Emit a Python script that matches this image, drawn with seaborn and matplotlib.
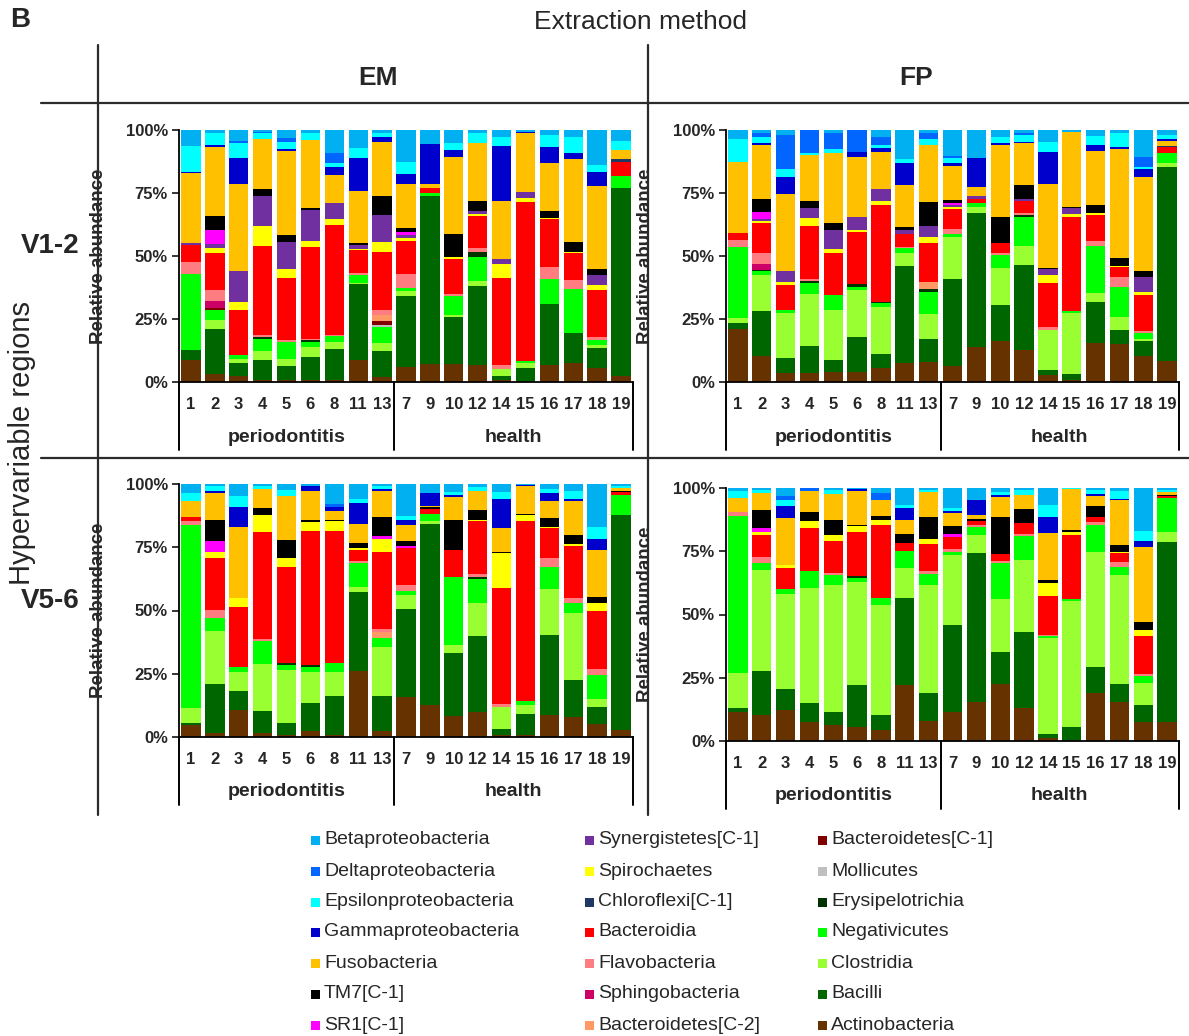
import matplotlib
matplotlib.use("Agg")
import matplotlib.pyplot as plt
from matplotlib.lines import Line2D
from matplotlib.patches import Rectangle
from matplotlib.ticker import FuncFormatter
import pandas as pd
import seaborn as sns

# ---------------------------------------------------------------- data
samples = ["1", "2", "3", "4", "5", "6", "8", "11", "13",
           "7", "9", "10", "12", "14", "15", "16", "17", "18", "19"]
group_names = ["periodontitis", "health"]
group_sizes = [9, 10]

# taxa listed from the top of each stacked bar down (same as legend order)
taxa = ["Betaproteobacteria", "Deltaproteobacteria", "Epsilonproteobacteria",
        "Gammaproteobacteria", "Fusobacteria", "TM7[C-1]", "SR1[C-1]",
        "Synergistetes[C-1]", "Spirochaetes", "Chloroflexi[C-1]", "Bacteroidia",
        "Flavobacteria", "Sphingobacteria", "Bacteroidetes[C-2]",
        "Bacteroidetes[C-1]", "Mollicutes", "Erysipelotrichia", "Negativicutes",
        "Clostridia", "Bacilli", "Actinobacteria"]
taxa_colors = ["#00B0F0", "#0066FF", "#00FFFF", "#0000CC", "#FFC000", "#000000",
               "#FF00FF", "#7030A0", "#FFFF00", "#1F3864", "#FF0000", "#FF7C80",
               "#CC0066", "#FF9966", "#800000", "#BFBFBF", "#003300", "#00FF00",
               "#99FF33", "#006600", "#663300"]

# relative abundance (%) per sample, EM extraction, V1-2 region
em_v12 = {
    "Actinobacteria": [8.9, 3.3, 2.3, 0.9, 0.9, 0.9, 0.9, 8.6, 2.0, 6.0, 7.3, 7.3, 6.9, 0.7, 0.4, 6.6, 7.7, 5.7, 2.4],
    "Bacilli": [3.9, 17.9, 5.2, 8.0, 5.3, 9.0, 12.3, 30.2, 10.3, 28.0, 66.5, 18.5, 31.1, 1.6, 5.3, 24.3, 11.9, 7.8, 74.4],
    "Clostridia": [0, 3.3, 1.8, 3.4, 3.1, 4.0, 2.7, 0.5, 3.2, 2.0, 0, 0.7, 2.1, 3.0, 1.8, 0, 0, 1.3, 0],
    "Negativicutes": [30.2, 4.2, 1.3, 4.9, 6.6, 2.0, 2.2, 3.1, 6.4, 1.4, 1.3, 7.7, 9.6, 0, 0.8, 9.8, 17.5, 1.8, 4.9],
    "Erysipelotrichia": [0, 0, 0, 0.8, 0, 0.9, 0, 0, 0, 0, 0, 0, 2.0, 0, 0, 0, 0, 0, 0],
    "Mollicutes": [0, 0, 0, 0, 0, 0, 0, 0, 0.9, 0, 0, 0, 0, 0, 0, 0, 0, 0, 0],
    "Bacteroidetes[C-1]": [0, 0.8, 0, 0, 0, 0, 0, 0, 1.3, 0, 0, 0, 0, 0, 0, 0, 0, 0, 0],
    "Bacteroidetes[C-2]": [0, 0, 0, 0, 0, 0, 0, 0, 2.5, 0, 0, 0, 0, 0, 0, 0, 0, 0, 0],
    "Sphingobacteria": [0, 2.6, 0, 0, 0, 0, 0, 0, 0, 0, 0, 0, 0, 0, 0, 0, 0, 0, 0],
    "Flavobacteria": [4.7, 4.3, 0, 0.5, 0.7, 0.4, 0.7, 0.9, 2.1, 5.4, 0, 0.9, 1.3, 1.3, 0, 5.0, 3.3, 1.3, 0],
    "Bacteroidia": [6.6, 14.9, 18.1, 35.4, 24.7, 36.2, 43.7, 9.0, 23.0, 13.2, 2.0, 13.9, 12.8, 34.5, 63.2, 18.8, 10.6, 18.5, 5.7],
    "Chloroflexi[C-1]": [0, 0, 0, 0, 0, 0, 0, 0, 0, 0, 0, 0, 0, 0, 0, 0, 0, 0, 0.9],
    "Spirochaetes": [0, 1.7, 3.1, 8.0, 3.7, 2.6, 2.0, 0.4, 3.9, 1.0, 0, 0.7, 0.7, 5.7, 1.7, 0.7, 0.7, 2.0, 0],
    "Synergistetes[C-1]": [0.7, 1.7, 12.3, 11.9, 10.6, 12.2, 6.4, 1.6, 10.6, 1.3, 0, 0, 1.3, 2.2, 2.3, 0, 0, 4.0, 0],
    "SR1[C-1]": [0, 5.6, 0, 0, 0, 0, 0, 0, 0, 1.3, 0, 0, 0, 0, 0, 0, 0, 0, 0],
    "TM7[C-1]": [0, 5.5, 0, 2.6, 2.7, 0.7, 0, 0.9, 7.6, 1.7, 0, 9.2, 4.1, 0, 0, 2.6, 3.9, 2.4, 0],
    "Fusobacteria": [28.0, 27.3, 34.3, 19.9, 33.5, 27.1, 11.2, 20.7, 21.6, 17.1, 1.3, 30.2, 23.1, 22.8, 23.2, 19.0, 32.7, 32.9, 3.8],
    "Gammaproteobacteria": [0.4, 0.9, 10.6, 0, 0.5, 0, 3.3, 12.8, 2.0, 4.1, 16.0, 3.0, 0, 21.8, 0.6, 6.6, 2.7, 5.5, 0],
    "Epsilonproteobacteria": [10.2, 4.9, 6.0, 2.4, 3.1, 2.7, 1.6, 4.0, 1.3, 4.7, 0, 2.9, 3.7, 3.8, 0, 4.6, 6.1, 2.9, 3.7],
    "Deltaproteobacteria": [0, 0, 0.8, 0.6, 1.3, 0, 3.7, 0, 0, 0, 0, 0, 0, 0, 0, 0, 0, 0, 0],
    "Betaproteobacteria": [6.4, 1.1, 4.2, 0.7, 3.3, 1.3, 9.3, 7.3, 1.3, 12.8, 5.6, 5.0, 1.3, 2.6, 0.7, 2.0, 2.9, 13.9, 4.2],
}

# FP extraction, V1-2 region
fp_v12 = {
    "Actinobacteria": [20.9, 10.3, 3.6, 3.6, 4.0, 4.0, 5.7, 7.7, 7.9, 6.2, 13.9, 16.2, 12.6, 2.6, 0.9, 15.5, 15.0, 10.2, 8.2],
    "Bacilli": [2.5, 17.8, 5.9, 10.6, 4.6, 13.9, 5.6, 38.4, 9.3, 34.6, 53.3, 14.5, 33.8, 2.0, 2.1, 16.3, 5.5, 6.1, 77.2],
    "Clostridia": [1.8, 14.3, 17.9, 20.9, 19.9, 18.5, 18.5, 4.9, 9.7, 16.6, 2.1, 14.6, 7.5, 16.2, 24.5, 3.7, 5.3, 0.7, 1.4],
    "Negativicutes": [28.4, 1.7, 1.1, 4.0, 5.9, 1.3, 1.6, 2.0, 8.9, 1.3, 1.6, 5.0, 11.4, 0, 0.7, 18.4, 11.9, 2.5, 4.2],
    "Erysipelotrichia": [0, 0.5, 0, 1.0, 0, 1.1, 0.4, 0, 1.3, 0, 0, 0, 0.9, 0, 0, 0, 0, 0, 0],
    "Bacteroidetes[C-2]": [0, 0, 0, 0, 0, 0, 0, 0, 2.6, 0, 0, 0, 0, 0, 0, 0, 0, 0, 0],
    "Sphingobacteria": [0, 2.4, 0, 0, 0, 0, 0, 0, 0, 0, 0, 0, 0, 0, 0, 0, 0, 0, 0],
    "Flavobacteria": [2.7, 4.3, 0, 0.7, 0, 0, 0, 0.6, 0, 2.2, 0, 0.7, 1.0, 1.1, 0, 2.1, 3.8, 0.8, 0],
    "Bacteroidia": [2.9, 11.6, 9.9, 21.1, 16.6, 20.8, 38.4, 5.3, 15.5, 7.6, 1.9, 4.2, 4.6, 17.4, 37.4, 10.2, 4.2, 14.1, 2.1],
    "Chloroflexi[C-1]": [0, 0, 0, 0, 0, 0, 0, 0, 0, 0, 0, 0, 0, 0, 0, 0, 0, 0, 0.5],
    "Spirochaetes": [0, 0.9, 1.1, 3.3, 1.6, 0.9, 1.6, 0, 2.2, 0.8, 0, 0, 0, 3.1, 0.9, 0.7, 0.4, 1.4, 0],
    "Synergistetes[C-1]": [0, 0.7, 4.6, 3.7, 7.7, 5.1, 4.6, 1.4, 4.5, 0.8, 1.0, 0, 0.9, 2.4, 2.4, 0, 0, 5.9, 0],
    "SR1[C-1]": [0, 3.0, 0, 0, 0, 0, 0, 0, 0, 0.8, 0, 0, 0, 0, 0, 0, 0, 0, 0],
    "TM7[C-1]": [0, 5.3, 0, 2.9, 2.6, 0, 0, 1.3, 9.6, 1.3, 0, 10.4, 5.4, 0.5, 0.6, 3.3, 3.3, 2.3, 0],
    "Fusobacteria": [28.2, 21.2, 30.7, 18.3, 27.8, 23.8, 15.0, 16.5, 22.5, 13.5, 3.7, 28.4, 16.6, 33.1, 29.8, 21.5, 42.9, 37.5, 2.2],
    "Gammaproteobacteria": [0, 0.7, 6.7, 0, 0, 2.0, 1.3, 8.7, 0, 1.1, 11.2, 1.0, 0.7, 12.7, 0, 2.3, 0.8, 2.9, 0.5],
    "Epsilonproteobacteria": [8.9, 2.7, 2.9, 0.9, 1.6, 0, 1.3, 1.5, 2.3, 1.9, 0, 2.4, 2.6, 4.3, 0, 3.6, 5.6, 1.0, 1.7],
    "Deltaproteobacteria": [0, 1.5, 13.6, 9.0, 6.4, 8.6, 3.4, 0, 2.4, 1.0, 0, 0, 0.9, 0, 0, 0, 0, 3.7, 0],
    "Betaproteobacteria": [3.7, 1.1, 2.0, 0, 1.3, 0, 2.6, 11.7, 1.3, 10.3, 11.3, 2.6, 1.1, 4.6, 0.7, 2.4, 1.3, 10.9, 2.0],
}

# EM extraction, V5-6 region
em_v56 = {
    "Actinobacteria": [4.6, 1.7, 10.6, 1.7, 0.9, 2.2, 0.9, 26.0, 2.2, 15.9, 12.5, 8.3, 9.9, 0.9, 0.7, 8.6, 7.9, 5.3, 2.6],
    "Bacilli": [1.1, 19.4, 7.5, 8.5, 4.6, 11.4, 15.3, 31.2, 14.0, 34.6, 71.6, 25.0, 30.1, 2.1, 8.2, 31.7, 14.6, 6.6, 85.0],
    "Clostridia": [5.8, 20.9, 7.4, 18.5, 20.9, 12.2, 9.6, 2.2, 19.5, 5.6, 1.4, 3.0, 12.8, 8.9, 3.9, 18.2, 26.4, 3.0, 0],
    "Negativicutes": [72.4, 4.9, 2.0, 9.2, 2.0, 1.9, 3.3, 9.3, 3.3, 1.6, 2.6, 27.1, 9.7, 0, 1.3, 8.5, 3.9, 9.8, 7.9],
    "Erysipelotrichia": [0, 0, 0, 0, 0.7, 0.7, 0, 0, 0, 0, 0, 0, 0.9, 0, 0, 0, 0, 0, 0],
    "Bacteroidetes[C-2]": [0, 0, 0, 0, 0, 0, 0, 0, 2.6, 0, 0, 0, 0, 0, 0, 0, 0, 0, 0],
    "Flavobacteria": [1.6, 3.3, 0, 0.7, 0, 0, 0, 0.9, 1.1, 2.4, 0, 0, 0.9, 1.3, 0, 3.9, 2.0, 2.0, 0],
    "Bacteroidia": [1.3, 20.7, 24.0, 42.4, 37.9, 53.1, 52.4, 4.4, 30.6, 14.8, 2.0, 10.6, 20.9, 45.6, 71.4, 11.7, 20.8, 23.1, 1.3],
    "Spirochaetes": [0, 2.4, 3.6, 6.6, 3.9, 3.4, 3.7, 0.6, 5.0, 0, 0, 0, 0.7, 13.9, 2.1, 0.5, 0.6, 3.0, 0],
    "SR1[C-1]": [0, 4.0, 0, 0, 0, 0, 0, 0, 1.0, 0.7, 0, 0, 0, 0, 0, 0, 0, 0, 0],
    "TM7[C-1]": [0, 8.6, 0, 2.9, 7.0, 1.0, 0.7, 2.0, 7.5, 1.9, 0.8, 11.9, 3.9, 0.6, 0.5, 3.4, 3.7, 2.7, 0.6],
    "Fusobacteria": [6.3, 10.5, 28.1, 7.7, 17.2, 11.2, 3.5, 7.5, 10.6, 6.4, 0.6, 8.8, 7.3, 9.3, 11.0, 6.6, 13.5, 18.5, 1.0],
    "Gammaproteobacteria": [0, 0.7, 7.9, 0, 0, 2.0, 1.7, 8.4, 0.8, 2.0, 4.9, 1.1, 0, 11.6, 0.5, 3.3, 0.8, 4.2, 0],
    "Epsilonproteobacteria": [3.3, 2.0, 4.0, 0.9, 2.7, 0, 0, 1.7, 0.9, 1.6, 0, 1.0, 1.6, 2.6, 0, 1.8, 3.2, 5.0, 0.9],
    "Deltaproteobacteria": [0, 0, 0, 0, 0, 0, 1.0, 0, 0, 0, 0, 0, 0, 0, 0, 0, 0, 0, 0],
    "Betaproteobacteria": [3.6, 0.9, 4.9, 0.9, 2.2, 0.9, 7.9, 5.8, 0.9, 12.5, 3.6, 3.2, 1.3, 3.2, 0.4, 1.8, 2.6, 16.8, 0.7],
}

# FP extraction, V5-6 region
fp_v56 = {
    "Actinobacteria": [11.5, 10.2, 12.2, 7.5, 6.5, 5.5, 4.2, 22.3, 7.8, 11.5, 15.3, 22.5, 12.9, 1.2, 0.3, 18.8, 15.5, 7.6, 7.6],
    "Bacilli": [1.6, 17.4, 8.5, 7.6, 5.0, 16.8, 6.2, 34.4, 11.0, 34.5, 59.2, 12.5, 30.1, 1.5, 5.3, 10.6, 7.0, 6.6, 71.2],
    "Clostridia": [13.6, 40.0, 37.3, 45.5, 50.2, 40.4, 43.4, 11.6, 42.9, 27.5, 7.1, 21.0, 28.5, 38.0, 49.7, 45.4, 43.0, 8.9, 4.0],
    "Negativicutes": [62.1, 2.7, 2.1, 6.6, 4.0, 1.6, 2.6, 6.9, 4.2, 1.3, 3.1, 14.3, 9.7, 0.9, 0.7, 10.6, 3.1, 2.6, 13.2],
    "Erysipelotrichia": [0, 0, 0, 0, 0, 1.0, 0, 0, 0, 0, 0, 0, 0, 0, 0, 0, 0, 0, 0],
    "Flavobacteria": [1.6, 2.6, 0, 0, 0.6, 0, 0, 0, 1.1, 1.1, 0.7, 0.7, 0.6, 0.4, 0, 1.1, 2.0, 0.8, 0],
    "Bacteroidia": [0, 8.6, 8.2, 16.9, 12.8, 17.5, 28.8, 3.0, 10.8, 4.9, 1.7, 2.9, 4.3, 15.3, 25.4, 2.0, 3.9, 15.1, 0.8],
    "Spirochaetes": [0, 1.3, 1.1, 3.0, 2.4, 2.0, 2.3, 0, 2.0, 0, 0, 0, 0, 5.0, 1.1, 0, 0.4, 2.2, 0],
    "SR1[C-1]": [0, 1.3, 0, 0, 0, 0, 0, 0, 0, 1.0, 0, 0, 0, 0, 0, 0, 0, 0, 0],
    "TM7[C-1]": [0, 7.3, 0, 3.4, 6.0, 0.7, 1.3, 3.6, 8.6, 3.3, 0.7, 14.6, 5.7, 1.2, 0.9, 4.2, 2.7, 3.3, 0.5],
    "Fusobacteria": [5.6, 6.6, 18.7, 8.4, 10.1, 13.2, 6.6, 5.7, 10.0, 5.1, 1.6, 7.9, 5.5, 18.7, 16.1, 4.1, 17.5, 29.7, 1.1],
    "Gammaproteobacteria": [0, 0, 4.6, 0, 0, 1.0, 0, 4.6, 0, 0.9, 5.7, 0.9, 0, 6.3, 0, 0.9, 0.4, 2.4, 0],
    "Epsilonproteobacteria": [2.9, 1.3, 2.7, 0, 1.7, 0, 0, 1.0, 0.9, 0.9, 0, 1.1, 1.8, 4.9, 0.5, 1.4, 3.2, 4.0, 0.7],
    "Deltaproteobacteria": [0, 0, 1.3, 1.1, 0, 0, 2.6, 0, 0, 0, 0, 0, 0, 0, 0, 0, 0, 0, 0],
    "Betaproteobacteria": [1.1, 0.7, 3.3, 0, 0.7, 0.3, 2.0, 6.9, 0.7, 8.0, 4.9, 1.6, 0.9, 6.6, 0, 0.9, 1.3, 16.8, 0.9],
}

# ---------------------------------------------------------------- style
W, H = 1189, 1036
sns.set_style("white")
plt.rcParams["font.family"] = ["Liberation Sans", "DejaVu Sans"]
fig = plt.figure(figsize=(W / 100, H / 100), dpi=100)


def fx(x):
    return x / W


def fy(y):
    return 1 - y / H


def long_table(table):
    rows = []
    for name in taxa:
        vals = table.get(name, [0.0] * len(samples))
        for i, v in enumerate(vals):
            rows.append((i, name, v))
    return pd.DataFrame(rows, columns=["pos", "taxon", "abundance"])


def draw_panel(table, left, top, right, bottom):
    ax = fig.add_axes([fx(left), fy(bottom), fx(right) - fx(left), (bottom - top) / H])
    df = long_table(table)
    sns.histplot(data=df, x="pos", weights="abundance", hue="taxon",
                 hue_order=taxa, palette=taxa_colors, multiple="stack",
                 discrete=True, shrink=0.81, linewidth=0, alpha=1,
                 legend=False, ax=ax)
    n = len(samples)
    ax.set_xlim(-0.5, n - 0.5)
    ax.set_ylim(0, 100)
    ax.set_yticks([0, 25, 50, 75, 100])
    ax.yaxis.set_major_formatter(FuncFormatter(lambda v, p: f"{int(v)}%"))
    ax.set_xticks(range(n))
    ax.set_xticklabels(samples)
    for lab in ax.get_xticklabels() + ax.get_yticklabels():
        lab.set_fontweight("bold")
    ax.tick_params(axis="x", length=0, pad=11, labelsize=12)
    ax.tick_params(axis="y", length=5, width=1.3, direction="out", pad=3,
                   labelsize=12, left=True)
    for side in ("top", "right"):
        ax.spines[side].set_visible(False)
    for side in ("left", "bottom"):
        ax.spines[side].set_linewidth(1.3)
        ax.spines[side].set_color("black")
    ax.set_xlabel("")
    ax.set_ylabel("Relative abundance", fontsize=13.5, fontweight="bold")
    ax.yaxis.set_label_coords(-0.158, 0.5)

    # group brackets below the sample numbers
    trans = ax.get_xaxis_transform()
    depth = -68 / (bottom - top)
    edges = [-0.5]
    for s in group_sizes:
        edges.append(edges[-1] + s)
    for e in edges:
        ax.plot([e, e], [0, depth], transform=trans, clip_on=False,
                color="black", lw=1.4)
    for name, a, b in zip(group_names, edges[:-1], edges[1:]):
        ax.text((a + b) / 2, -55 / (bottom - top), name, transform=trans,
                ha="center", va="center", fontsize=14, fontweight="bold")
    return ax


draw_panel(em_v12, 179, 130, 633, 382)
draw_panel(fp_v12, 726, 130, 1179, 382)
draw_panel(em_v56, 179, 484, 633, 737)
draw_panel(fp_v56, 726, 488, 1179, 741)

# ---------------------------------------------------------------- frame
frame_kw = dict(color="#2b2b2b", lw=1.6)
fig.add_artist(Line2D([fx(98), fx(98)], [fy(45), fy(815)], **frame_kw))
fig.add_artist(Line2D([fx(648), fx(648)], [fy(45), fy(815)], **frame_kw))
fig.add_artist(Line2D([fx(41), fx(W)], [fy(103), fy(103)], **frame_kw))
fig.add_artist(Line2D([fx(41), fx(W)], [fy(458), fy(458)], **frame_kw))

fig.text(fx(20), fy(20), "B", fontsize=20, fontweight="bold", ha="center", va="center")
fig.text(fx(640), fy(22), "Extraction method", fontsize=19, ha="center", va="center")
fig.text(fx(378), fy(78), "EM", fontsize=19, fontweight="bold", ha="center", va="center")
fig.text(fx(916), fy(78), "FP", fontsize=19, fontweight="bold", ha="center", va="center")
fig.text(fx(22), fy(443), "Hypervariable regions", fontsize=21, rotation=90,
         ha="center", va="center")
fig.text(fx(50), fy(246), "V1-2", fontsize=20, fontweight="bold", ha="center", va="center")
fig.text(fx(50), fy(601), "V5-6", fontsize=20, fontweight="bold", ha="center", va="center")

# ---------------------------------------------------------------- legend
col_sq = [311, 585, 818]
col_txt = [324, 598, 831]
row_y = [840, 871, 902, 932, 963, 994, 1025]
sq = 9
for k, (name, col) in enumerate(zip(taxa, taxa_colors)):
    c, r = divmod(k, 7)
    x0, y0 = col_sq[c], row_y[r]
    fig.add_artist(Rectangle((fx(x0), fy(y0 + sq / 2)), sq / W, sq / H,
                             facecolor=col, edgecolor="none"))
    fig.text(fx(col_txt[c]), fy(y0), name, fontsize=14, ha="left", va="center")

fig.savefig("out.png", dpi=100)
